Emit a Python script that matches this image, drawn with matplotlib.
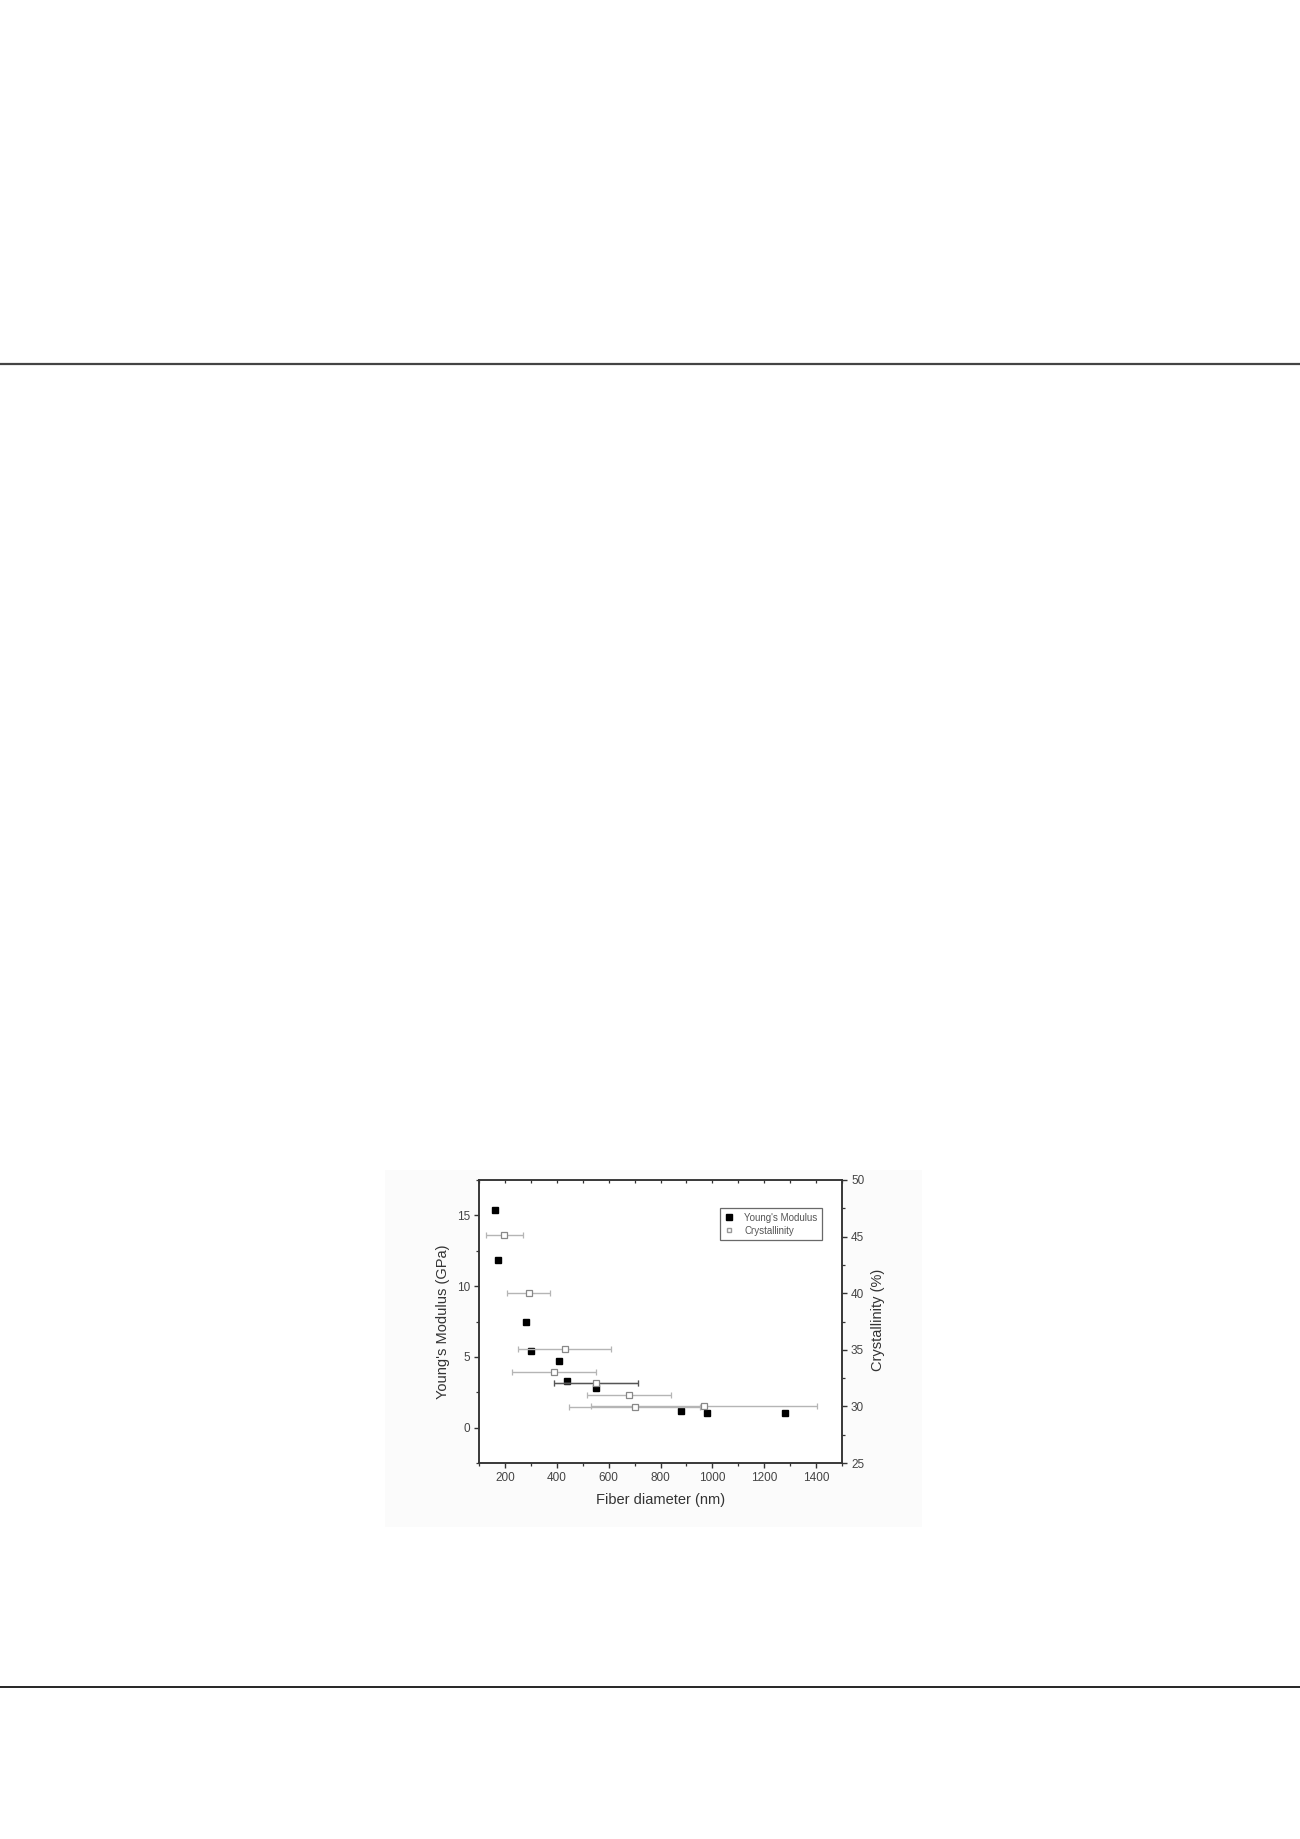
import matplotlib
matplotlib.use("Agg")
import matplotlib.pyplot as plt
from matplotlib.lines import Line2D
from matplotlib.patches import Rectangle
from matplotlib.ticker import MultipleLocator

plt.rcParams['font.family'] = ['Liberation Sans', 'DejaVu Sans']

# ---- data ----
ym_x = [160, 172, 281, 302, 410, 440, 550, 878, 980, 1280]
ym_y = [15.4, 11.85, 7.45, 5.45, 4.7, 3.3, 2.8, 1.2, 1.05, 1.02]

cr_x = [197, 292, 430, 390, 550, 678, 700, 968]
cr_y = [45.1, 40.05, 35.05, 33.05, 32.05, 31.0, 29.97, 30.05]
cr_xerr = [71, 83, 180, 162, 162, 162, 252, 437]
dark_idx = 4

xlabel = "Fiber diameter (nm)"
ylabel_left = "Young's Modulus (GPa)"
ylabel_right = "Crystallinity (%)"
legend_labels = ["Young's Modulus", "Crystallinity"]

W, H = 1300, 1839
fig = plt.figure(figsize=(W / 100, H / 100), dpi=100)
fig.patch.set_facecolor('white')

# horizontal page rules
fig.add_artist(Line2D([0, 1], [1 - 364 / H, 1 - 364 / H], color='#444444', lw=1.6,
                      transform=fig.transFigure))
fig.add_artist(Line2D([0, 1], [1 - 1687 / H, 1 - 1687 / H], color='black', lw=1.2,
                      transform=fig.transFigure))

# faint background of the embedded picture
fig.add_artist(Rectangle((385 / W, 1 - 1527 / H), (922 - 385) / W, (1527 - 1170) / H,
                         transform=fig.transFigure, facecolor='#fbfbfb',
                         edgecolor='none', zorder=0))

ax_l, ax_r, ax_t, ax_b = 479, 842, 1180, 1463
ax = fig.add_axes([ax_l / W, 1 - ax_b / H, (ax_r - ax_l) / W, (ax_b - ax_t) / H])
ax.set_facecolor('white')
ax2 = ax.twinx()

spc = '#333333'
for a in (ax, ax2):
    for s in a.spines.values():
        s.set_color(spc)
        s.set_linewidth(1.1)

ax.set_xlim(100, 1500)
ax.set_ylim(-2.5, 17.5)
ax2.set_ylim(25, 50)

ax.xaxis.set_major_locator(MultipleLocator(200))
ax.xaxis.set_minor_locator(MultipleLocator(100))
ax.yaxis.set_major_locator(MultipleLocator(5))
ax.yaxis.set_minor_locator(MultipleLocator(2.5))
ax2.yaxis.set_major_locator(MultipleLocator(5))
ax2.yaxis.set_minor_locator(MultipleLocator(2.5))

ax.tick_params(axis='x', which='both', direction='out', top=False, colors=spc,
               labelsize=8.5, labelcolor='#444444', pad=3)
ax.tick_params(axis='y', which='both', direction='out', right=False, colors=spc,
               labelsize=8.5, labelcolor='#444444', pad=3)
ax2.tick_params(axis='y', which='both', direction='out', colors=spc,
                labelsize=8.5, labelcolor='#444444', pad=3)
for a in (ax, ax2):
    a.tick_params(which='major', length=3.5, width=1.0)
    a.tick_params(which='minor', length=2.0, width=0.9)

# top ticks (inward, unlabeled)
sec = ax.secondary_xaxis('top')
sec.xaxis.set_major_locator(MultipleLocator(100))
sec.tick_params(direction='in', length=2.5, width=0.9, colors=spc, labeltop=False)
sec.spines['top'].set_visible(False)

# Young's modulus
ax.plot(ym_x, ym_y, linestyle='none', marker='s', markersize=4.6,
        markerfacecolor='black', markeredgecolor='black', zorder=3)

# Crystallinity with horizontal error bars
ax2.errorbar(cr_x, cr_y, xerr=cr_xerr, fmt='none', ecolor='#b5b5b5',
             elinewidth=1.0, capsize=2.5, capthick=0.9, zorder=2)
ax2.errorbar([cr_x[dark_idx]], [cr_y[dark_idx]], xerr=[cr_xerr[dark_idx]], fmt='none',
             ecolor='#555555', elinewidth=1.0, capsize=2.5, capthick=0.9, zorder=2)
ax2.plot(cr_x, cr_y, linestyle='none', marker='s', markersize=4.2,
         markerfacecolor='white', markeredgecolor='#888888', markeredgewidth=0.9,
         zorder=4)

# labels
lc = '#333333'
ax.text(0.5, -0.131, xlabel, transform=ax.transAxes, ha='center', va='center',
        fontsize=10.5, color=lc)
ax.text(-0.099, 0.5, ylabel_left, transform=ax.transAxes, ha='center', va='center',
        rotation=90, fontsize=10.5, color=lc)
ax.text(1.099, 0.505, ylabel_right, transform=ax.transAxes, ha='center', va='center',
        rotation=90, fontsize=10.5, color=lc)

handles = [
    Line2D([], [], linestyle='none', marker='s', markersize=4, markerfacecolor='black',
           markeredgecolor='black'),
    Line2D([], [], linestyle='none', marker='s', markersize=3.5, markerfacecolor='white',
           markeredgecolor='#999999'),
]
leg = ax2.legend(handles, legend_labels, loc='upper right',
                 bbox_to_anchor=(0.945, 0.9), fontsize=7, frameon=True,
                 fancybox=False, edgecolor='#444444', borderpad=0.45,
                 handlelength=1.0, handletextpad=1.1, labelspacing=0.3,
                 borderaxespad=0)
leg.get_frame().set_linewidth(0.9)
for t in leg.get_texts():
    t.set_color('#555555')

fig.savefig('out.png', dpi=100, facecolor='white')
